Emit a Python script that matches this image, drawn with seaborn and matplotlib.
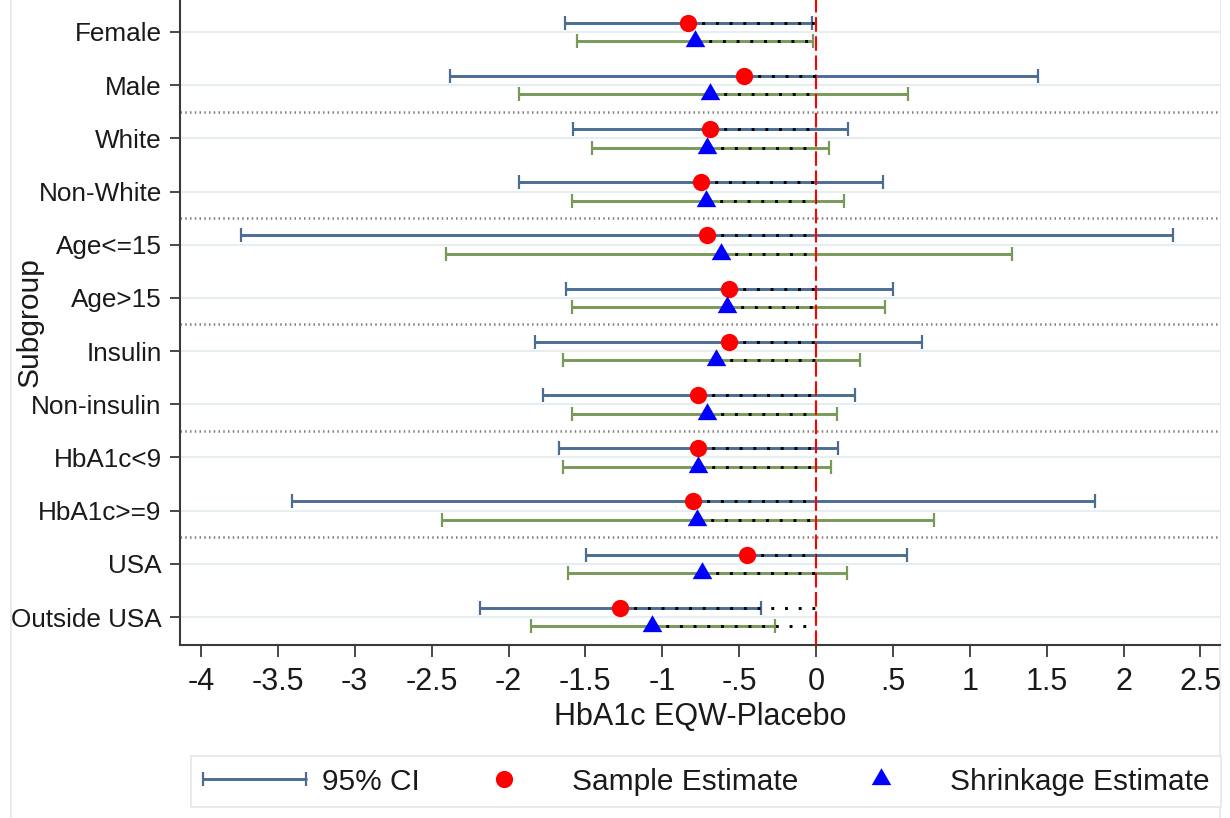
import numpy as np
import pandas as pd
import matplotlib
matplotlib.use("Agg")
import matplotlib.pyplot as plt
from matplotlib.lines import Line2D
from matplotlib.path import Path
from matplotlib.patches import Rectangle
from matplotlib.legend_handler import HandlerLine2D
from matplotlib.ticker import FuncFormatter
import seaborn as sns

# Subgroup treatment differences (HbA1c, EQW minus placebo)
subgroups = ["Female", "Male", "White", "Non-White", "Age<=15", "Age>15",
             "Insulin", "Non-insulin", "HbA1c<9", "HbA1c>=9", "USA", "Outside USA"]

sample_est = [-0.834, -0.466, -0.689, -0.750, -0.709, -0.566,
              -0.566, -0.765, -0.765, -0.798, -0.451, -1.275]
sample_lo = [-1.633, -2.378, -1.582, -1.930, -3.738, -1.628,
             -1.828, -1.774, -1.674, -3.410, -1.496, -2.185]
sample_hi = [-0.026, 1.447, 0.211, 0.434, 2.325, 0.499,
             0.692, 0.256, 0.141, 1.812, 0.594, -0.360]

shrink_est = [-0.790, -0.690, -0.707, -0.715, -0.618, -0.577,
              -0.650, -0.707, -0.765, -0.772, -0.741, -1.069]
shrink_lo = [-1.554, -1.930, -1.455, -1.587, -2.408, -1.587,
             -1.648, -1.589, -1.648, -2.432, -1.613, -1.854]
shrink_hi = [-0.021, 0.596, 0.085, 0.182, 1.275, 0.447,
             0.288, 0.134, 0.095, 0.765, 0.204, -0.267]

x_ticks = [-4, -3.5, -3, -2.5, -2, -1.5, -1, -0.5, 0, 0.5, 1, 1.5, 2, 2.5]
legend_labels = ["95% CI", "Sample Estimate", "Shrinkage Estimate"]

sns.set_theme(style="white")
plt.rcParams["font.family"] = ["Liberation Sans", "DejaVu Sans"]

ci_blue = "#4b6d94"
ci_green = "#789a58"
axis_col = "#3a3a3a"
text_col = "#1a1a1a"

rows = np.arange(len(subgroups))
off = 0.175
df = pd.DataFrame({
    "subgroup": subgroups,
    "row": rows,
    "y_sample": rows - off,
    "y_shrink": rows + off,
    "sample_est": sample_est, "sample_lo": sample_lo, "sample_hi": sample_hi,
    "shrink_est": shrink_est, "shrink_lo": shrink_lo, "shrink_hi": shrink_hi,
})

# triangle centred on its centroid
tri = Path([(0, 1), (-0.866, -0.5), (0.866, -0.5), (0, 1)],
           [Path.MOVETO, Path.LINETO, Path.LINETO, Path.CLOSEPOLY])

fig = plt.figure(figsize=(12.3, 8.18), dpi=100)
ax = fig.add_axes([180 / 1230, 173 / 818, 1040 / 1230, 645 / 818])

# faint row guides and dotted group separators
for r in rows:
    ax.axhline(r, color="#e6eef0", lw=1.5, zorder=0)
for s in [1.5, 3.5, 5.5, 7.5, 9.5]:
    ax.axhline(s, color="#7f7f7f", lw=1.8, ls=(0, (0.6, 1.3)), zorder=1)

# confidence intervals
ax.errorbar(df["sample_est"], df["y_sample"],
            xerr=[df["sample_est"] - df["sample_lo"], df["sample_hi"] - df["sample_est"]],
            fmt="none", ecolor=ci_blue, elinewidth=2.1, capsize=4.8, capthick=1.6, zorder=2)
ax.errorbar(df["shrink_est"], df["y_shrink"],
            xerr=[df["shrink_est"] - df["shrink_lo"], df["shrink_hi"] - df["shrink_est"]],
            fmt="none", ecolor=ci_green, elinewidth=2.1, capsize=4.8, capthick=1.6, zorder=2)

# reference line at zero
ax.axvline(0, color="red", lw=1.5, ls=(0, (7, 2.2)), zorder=3)

# dotted link from each estimate to zero
ax.hlines(df["y_sample"], df["sample_est"], 0, colors="black", lw=2.1,
          linestyles=[(0, (1.0, 3.7))], zorder=3.5)
ax.hlines(df["y_shrink"], df["shrink_est"], 0, colors="black", lw=2.1,
          linestyles=[(0, (1.0, 3.7))], zorder=3.5)

# point estimates
sns.scatterplot(data=df, x="sample_est", y="y_sample", color="red", marker="o",
                s=155, linewidth=0, ax=ax, zorder=5, legend=False)
sns.scatterplot(data=df, x="shrink_est", y="y_shrink", color="blue", marker=tri,
                s=266, linewidth=0, ax=ax, zorder=5, legend=False)

ax.set_xlim((180 - 816) / 153.75, (1220 - 816) / 153.75)
ax.set_ylim(11 + 28 / 53.2, -32 / 53.2)

ax.set_yticks(rows)
ax.set_yticklabels(subgroups)
ax.set_xticks(x_ticks)


def stata_fmt(v, _pos):
    s = f"{v:g}"
    if s.startswith("0."):
        s = s[1:]
    elif s.startswith("-0."):
        s = "-" + s[2:]
    return s


ax.xaxis.set_major_formatter(FuncFormatter(stata_fmt))

for side in ["top", "right"]:
    ax.spines[side].set_visible(False)
for side in ["left", "bottom"]:
    ax.spines[side].set_color(axis_col)
    ax.spines[side].set_linewidth(1.5)

ax.tick_params(axis="x", bottom=True, length=8.6, width=1.3, color=axis_col,
               pad=7, labelsize=22, labelcolor=text_col, direction="out")
ax.tick_params(axis="y", left=True, length=7.2, width=1.3, color=axis_col,
               pad=6, labelsize=18.8, labelcolor=text_col, direction="out")

ax.set_xlabel("HbA1c EQW-Placebo", fontsize=22, color=text_col)
ax.set_ylabel("Subgroup", fontsize=21.5, color=text_col)
ax.xaxis.set_label_coords(0.5, (645 - 717) / 645)
ax.xaxis.label.set_va("center")
ax.yaxis.set_label_coords((30 - 180) / 1040, 0.5)
ax.yaxis.label.set_va("center")

# light outer frame
fig.add_artist(Rectangle((11 / 1230, -0.02), (1220 - 11) / 1230, 1.05,
                         transform=fig.transFigure, fill=False,
                         edgecolor="#e0e8eb", lw=1.2, zorder=0))

handles = [
    Line2D([], [], color=ci_blue, lw=2.1, marker="|", markersize=9.6, mew=1.6),
    Line2D([], [], ls="none", marker="o", color="red", markersize=12.4, mew=0),
    Line2D([], [], ls="none", marker=tri, color="blue", markersize=16.3, mew=0),
]
leg = fig.legend(handles, legend_labels, loc="center",
                 bbox_to_anchor=(191 / 1230, 7 / 818, 1030 / 1230, 59 / 818),
                 mode="expand", ncol=3, fontsize=21.5, handlelength=3.45,
                 handletextpad=0.56, borderpad=0.39, borderaxespad=0,
                 frameon=True, fancybox=False, framealpha=1,
                 edgecolor="#e0e8eb",
                 handler_map={handles[0]: HandlerLine2D(numpoints=2, marker_pad=0)})
leg.get_frame().set_linewidth(1.2)
for t in leg.get_texts():
    t.set_color(text_col)

fig.savefig("out.png", dpi=100)
